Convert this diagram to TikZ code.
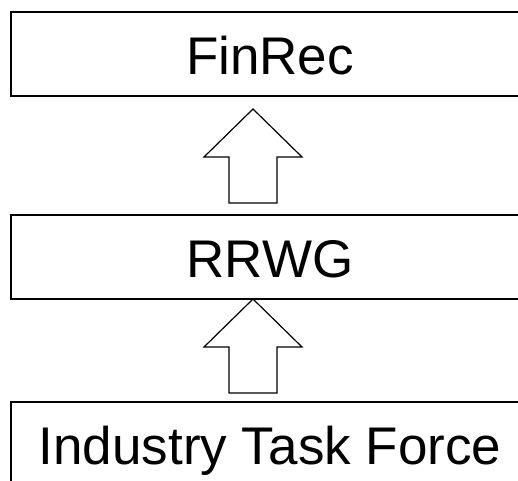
\documentclass[tikz,border=0pt]{standalone}
\usepackage{fontspec}
\setmainfont{Liberation Sans}
\begin{document}
\begin{tikzpicture}[x=1pt,y=-1pt,
  boxnode/.style={draw=black,line width=1.5pt,minimum width=518pt,minimum height=84pt,
    inner sep=0pt,text height=41pt,text depth=0pt,font=\fontsize{53}{57}\selectfont},
  blockarrow/.style={draw=black,line width=1.2pt,fill=white,line join=miter}]
\useasboundingbox (0,0) rectangle (518,480);
\clip (0,0) rectangle (518,480);
\fill[white] (0,0) rectangle (518,480);
\node[boxnode] (fin) at (270,54) {FinRec};
\node[boxnode] (rrwg) at (270,257) {RRWG};
\node[boxnode] (itf) at (270,444) {Industry Task Force};
\draw[blockarrow] (253,109) -- (302,157) -- (277,157) -- (277,203) -- (229,203) -- (229,157) -- (204,157) -- cycle;
\draw[blockarrow] (253,299) -- (302,347) -- (277,347) -- (277,393) -- (229,393) -- (229,347) -- (204,347) -- cycle;
\end{tikzpicture}
\end{document}
